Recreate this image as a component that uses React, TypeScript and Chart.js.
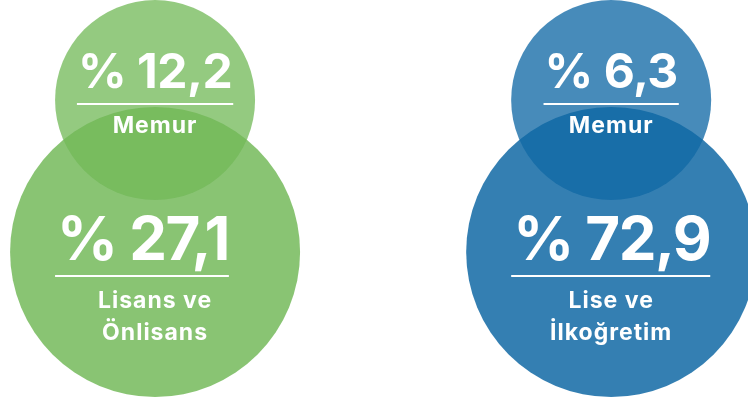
import React, { useEffect, useRef } from "react";
import { Chart, registerables } from "chart.js";

Chart.register(...registerables);

// Groups (left: green, right: blue)
const groups = ["Grup 1", "Grup 2"];
// Top circles: "Memur" share
const memurLabels = ["Memur", "Memur"];
const memurValues = [12.2, 6.3];
// Bottom circles: education share
const educationLabels = [
  ["Lisans ve", "Önlisans"],
  ["Lise ve", "İlkoğretim"],
];
const educationValues = [27.1, 72.9];

const smallColors = ["rgba(114,185,88,0.76)", "rgba(16,104,165,0.77)"];
const bigColors = ["rgba(114,185,88,0.84)", "rgba(16,104,165,0.85)"];

const FONT = "Inter, 'Open Sans', sans-serif";

const fmt = (v: number) => "% " + v.toFixed(1).replace(".", ",");

const textPlugin = {
  id: "circleText",
  afterDatasetsDraw(chart: any) {
    const ctx = chart.ctx as any;
    ctx.save();
    ctx.fillStyle = "#ffffff";
    ctx.strokeStyle = "#ffffff";
    ctx.textBaseline = "alphabetic";
    ctx.lineWidth = 2;

    const labelFont = () => {
      ctx.font = `700 23px ${FONT}`;
      ctx.letterSpacing = "1px";
      ctx.textAlign = "center";
    };

    // bottom row (dataset 0): value left-aligned inside big circle
    const bottom = chart.getDatasetMeta(0).data;
    bottom.forEach((el: any, i: number) => {
      const { x, y } = el;
      const text = fmt(educationValues[i]);
      ctx.font = `700 60px ${FONT}`;
      ctx.letterSpacing = "-1.5px";
      ctx.textAlign = "left";
      const left = x - 98;
      ctx.fillText(text, left, y + 8);
      const w = ctx.measureText(text).width;
      ctx.beginPath();
      ctx.moveTo(left - 2, y + 24);
      ctx.lineTo(left + w, y + 24);
      ctx.stroke();
      labelFont();
      educationLabels[i].forEach((line, k) => {
        ctx.fillText(line, x, y + 56 + k * 32);
      });
    });

    // top row (dataset 1): value centred
    const top = chart.getDatasetMeta(1).data;
    top.forEach((el: any, i: number) => {
      const { x, y } = el;
      const text = fmt(memurValues[i]);
      ctx.font = `700 48px ${FONT}`;
      ctx.letterSpacing = "-0.5px";
      ctx.textAlign = "center";
      ctx.fillText(text, x, y - 12);
      const w = ctx.measureText(text).width + 2;
      ctx.beginPath();
      ctx.moveTo(x - w / 2, y + 4);
      ctx.lineTo(x + w / 2, y + 4);
      ctx.stroke();
      labelFont();
      ctx.fillText(memurLabels[i], x, y + 33);
    });
    ctx.restore();
  },
};

export default function App() {
  const ref = useRef<HTMLCanvasElement | null>(null);
  useEffect(() => {
    document.body.style.margin = "0";
    const canvas = ref.current;
    if (!canvas) return;
    const chart = new Chart(canvas, {
      type: "scatter",
      data: {
        datasets: [
          {
            label: "Eğitim",
            data: groups.map((_, i) => ({ x: i + 1, y: 0 })),
            backgroundColor: bigColors,
            pointRadius: 145,
            pointBorderWidth: 0,
            borderWidth: 0,
            clip: false,
          } as any,
          {
            label: "Memur",
            data: groups.map((_, i) => ({ x: i + 1, y: 1 })),
            backgroundColor: smallColors,
            pointRadius: 100,
            pointBorderWidth: 0,
            borderWidth: 0,
            clip: false,
          } as any,
        ],
      },
      options: {
        responsive: false,
        animation: false,
        events: [],
        layout: { padding: 0, autoPadding: false },
        plugins: { legend: { display: false }, tooltip: { enabled: false } },
        scales: {
          x: { type: "linear", min: 0.66, max: 2.3, display: false },
          y: { type: "linear", min: -0.993, max: 1.658, display: false },
        },
      },
      plugins: [textPlugin],
    });
    return () => chart.destroy();
  }, []);
  return (
    <div style={{ position: "absolute", left: 0, top: 0, width: 748, height: 403, background: "#fff" }}>
      <canvas ref={ref} width={748} height={403} />
    </div>
  );
}
